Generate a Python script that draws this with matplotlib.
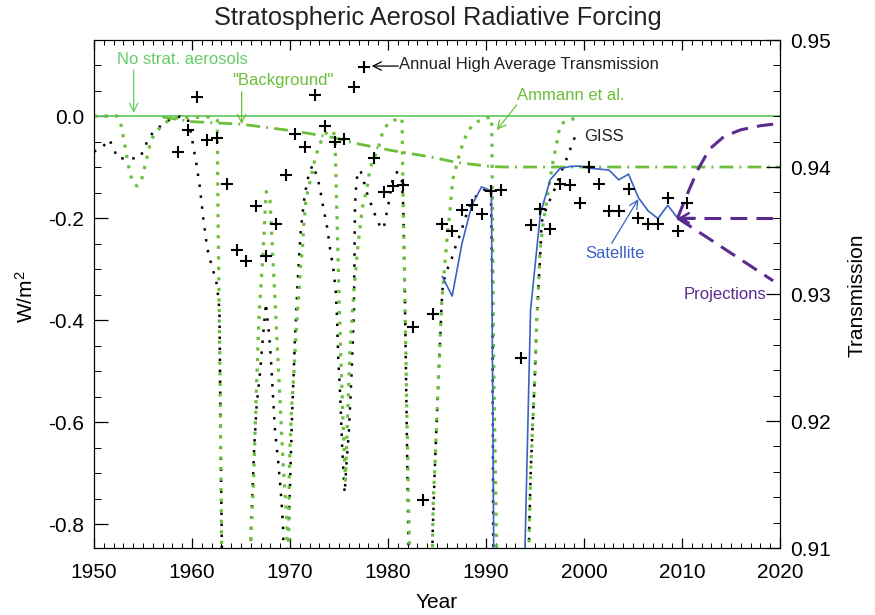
import numpy as np
import matplotlib.pyplot as plt
from matplotlib.ticker import MultipleLocator, FormatStrFormatter

plt.rcParams['font.family'] = ['Liberation Sans', 'DejaVu Sans']
plt.rcParams['mathtext.default'] = 'regular'
plt.rcParams['axes.unicode_minus'] = False

# GISS forcing (W/m2)
giss_year = [1950.0, 1950.95, 1951.56, 1952.07, 1952.42, 1953.19, 1954.01, 1954.72, 1955.13, 1955.58,
             1956.2, 1956.94, 1957.68, 1958.78, 1959.56, 1959.8, 1960.1, 1960.5, 1960.82, 1961.15,
             1961.56, 1962.1, 1962.45, 1962.65, 1962.8, 1963.03, 1963.12,
             1965.97, 1966.02, 1966.19, 1966.36, 1966.6, 1966.94, 1967.28, 1967.55, 1967.68, 1967.86,
             1968.06, 1968.23, 1968.47, 1968.81, 1969.05, 1969.26, 1969.39,
             1969.74, 1969.9, 1970.2, 1970.5, 1970.8, 1971.1, 1971.5, 1971.9, 1972.3, 1972.45,
             1972.83, 1973.06, 1973.4, 1973.81, 1974.08, 1974.42, 1974.66, 1974.77, 1974.93, 1975.1,
             1975.34, 1975.58,
             1975.79, 1976.02, 1976.3, 1976.53, 1976.63, 1976.79, 1977.04, 1977.24, 1977.48, 1977.89,
             1978.37, 1978.88, 1979.36, 1979.59, 1979.8, 1980.03, 1980.2, 1980.54, 1980.92, 1981.4,
             1981.56, 1981.73, 1982.07, 1982.14,
             1984.49, 1984.56, 1984.8, 1985.13, 1985.48, 1985.61, 1986.02, 1986.53, 1986.94, 1987.35,
             1987.76, 1988.16, 1988.67, 1989.18, 1989.8, 1990.31, 1990.51, 1990.66, 1990.74, 1990.82,
             1994.34, 1994.42, 1994.56, 1994.77, 1995.0, 1995.17, 1995.34, 1995.51, 1995.68, 1996.02,
             1996.36, 1996.87, 1997.55, 1997.96, 1998.4, 1998.74, 1999.08, 1999.39]
giss_f = [-0.07, -0.059, -0.046, -0.067, -0.083, -0.083, -0.083, -0.081, -0.063, -0.044,
          -0.027, -0.018, -0.008, -0.001, -0.005, -0.024, -0.055, -0.1, -0.142, -0.2,
          -0.26, -0.3, -0.32, -0.35, -0.38, -0.82, -0.95,
          -0.95, -0.806, -0.727, -0.645, -0.567, -0.504, -0.425, -0.367, -0.396, -0.425,
          -0.478, -0.537, -0.616, -0.68, -0.733, -0.792, -0.87,
          -0.87, -0.79, -0.596, -0.44, -0.32, -0.224, -0.155, -0.116, -0.096, -0.1025,
          -0.122, -0.142, -0.18, -0.22, -0.259, -0.299, -0.341, -0.38, -0.478, -0.537,
          -0.655, -0.739,
          -0.675, -0.616, -0.498, -0.38, -0.178, -0.125, -0.106, -0.11, -0.125, -0.153,
          -0.178, -0.204, -0.222, -0.217, -0.197, -0.176, -0.158, -0.116, -0.11, -0.12,
          -0.178, -0.361, -0.818, -0.89,
          -0.89, -0.818, -0.68, -0.524, -0.367, -0.327, -0.302, -0.278, -0.253, -0.233,
          -0.208, -0.184, -0.165, -0.153, -0.145, -0.141, -0.149, -0.361, -0.847, -0.95,
          -0.89, -0.806, -0.7, -0.602, -0.504, -0.406, -0.341, -0.282, -0.208, -0.188,
          -0.171, -0.15, -0.116, -0.096, -0.076, -0.057, -0.041, -0.027]

# Ammann et al. forcing (W/m2)
amm_year = [1950.0, 1952.35, 1952.76, 1953.06, 1953.27, 1953.5, 1953.78, 1954.05, 1954.39, 1954.8,
            1955.31, 1955.82, 1956.33, 1957.01, 1957.76, 1958.7, 1959.72, 1961.84, 1962.58, 1962.65,
            1962.86, 1963.01, 1963.11,
            1965.92, 1966.02, 1966.26, 1966.43, 1966.6, 1966.77, 1966.94,
            1967.17, 1967.35, 1967.52, 1967.58, 1967.76, 1967.96, 1968.13, 1968.3, 1968.64, 1968.98,
            1969.32, 1969.66, 1969.72,
            1969.85, 1969.93, 1970.0, 1970.17, 1970.34, 1970.51, 1970.68,
            1970.95, 1971.09, 1971.26, 1971.36, 1971.43, 1971.53, 1971.6, 1971.81, 1972.04, 1972.28,
            1972.48, 1972.79, 1973.13, 1973.5, 1973.98, 1974.39, 1974.59,
            1974.77, 1975.1, 1975.41, 1975.66, 1975.79, 1976.12, 1976.53, 1976.94, 1977.38, 1977.83,
            1978.16, 1978.5, 1979.01, 1979.52, 1980.2, 1981.22, 1981.43,
            1981.56, 1981.73, 1981.94, 1982.17, 1982.24,
            1984.52, 1984.56, 1984.62, 1984.8, 1984.97, 1985.13, 1985.31, 1985.48, 1985.64, 1985.98,
            1986.33, 1986.6, 1986.84, 1987.35, 1988.09, 1988.7, 1989.72, 1990.58,
            1990.66, 1990.77, 1990.92, 1991.09, 1991.12,
            1994.36, 1994.42, 1994.56, 1994.77, 1995.0, 1995.17, 1995.34, 1995.51, 1995.85, 1996.19,
            1996.53, 1996.87, 1997.21, 1997.55, 1998.23, 1999.26]
amm_f = [0.0, 0.0, -0.018, -0.047, -0.071, -0.096, -0.118, -0.133, -0.137, -0.129,
         -0.09, -0.047, -0.031, -0.018, -0.006, -0.003, -0.003, -0.002, -0.008, -0.178,
         -0.518, -0.818, -0.95,
         -0.95, -0.825, -0.727, -0.622, -0.524, -0.425, -0.361,
         -0.295, -0.229, -0.165, -0.148, -0.155, -0.165, -0.229, -0.295, -0.425, -0.557,
         -0.688, -0.786, -0.87,
         -0.87, -0.706, -0.649, -0.571, -0.524, -0.465, -0.406,
         -0.337, -0.289, -0.266, -0.227, -0.207, -0.188, -0.168, -0.148, -0.129, -0.109,
         -0.09, -0.07, -0.052, -0.037, -0.029, -0.029, -0.041,
         -0.178, -0.42, -0.596, -0.714, -0.639, -0.459, -0.341, -0.253, -0.18, -0.145,
         -0.103, -0.086, -0.063, -0.027, -0.011, -0.0045, -0.004,
         -0.178, -0.361, -0.596, -0.818, -0.89,
         -0.89, -0.818, -0.753, -0.681, -0.603, -0.524, -0.446, -0.367, -0.328, -0.25,
         -0.184, -0.125, -0.109, -0.07, -0.032, -0.016, -0.0045, -0.0025,
         -0.165, -0.459, -0.655, -0.847, -0.91,
         -0.91, -0.805, -0.7, -0.602, -0.504, -0.406, -0.341, -0.266, -0.207, -0.168,
         -0.125, -0.086, -0.054, -0.018, -0.008, -0.0045]

# "Background" level
bg_year = [1957, 1960, 1965, 1970.3, 1974.4, 1976.8, 1980.2, 1984.3, 1987.0, 1990.5, 1992, 2020]
bg_f = [-0.002, -0.011, -0.016, -0.029, -0.042, -0.054, -0.067, -0.08, -0.091, -0.099, -0.1, -0.1]

# satellite forcing, annual (mid-year)
sat_year = list(range(1985, 2010))
sat_f = [-0.315, -0.353, -0.25, -0.175, -0.139, -0.147, -3.1, -2.0, -1.2, -0.38,
         -0.192, -0.125, -0.103, -0.099, -0.098, -0.1025, -0.104, -0.106, -0.125, -0.114,
         -0.16, -0.186, -0.201, -0.175, -0.2]

# projections
proj_up_year = [2009.55, 2010.5, 2011.6, 2012.8, 2014.3, 2016.0, 2018.0, 2019.3]
proj_up_f = [-0.2, -0.155, -0.106, -0.065, -0.04, -0.027, -0.019, -0.016]
proj_flat_year = [2009.55, 2020]
proj_flat_f = [-0.2, -0.2]
proj_down_year = [2009.55, 2019.3]
proj_down_f = [-0.2, -0.323]

# annual high average transmission (right axis)
cross_years = list(range(1958, 1992)) + list(range(1993, 2011))
cross_trans = [0.9412, 0.9429, 0.9455, 0.9421, 0.9423, 0.9387, 0.9335, 0.9326, 0.9369, 0.9330,
               0.9355, 0.9394, 0.9426, 0.9416, 0.9457, 0.9432, 0.9420, 0.9422, 0.9463, 0.9479,
               0.9407, 0.9380, 0.9385, 0.9386, 0.9274, 0.9138, 0.9284, 0.9355, 0.9350, 0.9366,
               0.9370, 0.9363, 0.9381, 0.9382,
               0.9250, 0.9354, 0.9367, 0.9351, 0.9387, 0.9386, 0.9372, 0.9400, 0.9387, 0.9365,
               0.9365, 0.9383, 0.9360, 0.9355, 0.9355, 0.9376, 0.9350, 0.9372]

green = '#66cc66'
green_dot = '#6cbf3a'
blue = '#3a62c4'
purple = '#5b2a8e'

fig = plt.figure(figsize=(8.75, 6.15), dpi=100)
ax = fig.add_axes([0.1074, 0.1089, 0.784, 0.826])

ax.axhline(0.0, color=green, lw=1.3, zorder=2)
ax.plot(giss_year, giss_f, color='black', lw=1.8, dashes=(1, 3.4), zorder=3)
ax.plot(amm_year, amm_f, color=green_dot, lw=2.3, dashes=(1, 2.3), zorder=4)
ax.plot(bg_year, bg_f, color=green_dot, lw=2.0, dashes=(5, 2.2, 0.7, 2.2), zorder=4)
ax.plot(np.array(sat_year) + 0.55, sat_f, color=blue, lw=1.2, zorder=5)
ax.plot(proj_flat_year, proj_flat_f, color=purple, lw=2.2, dashes=(5.5, 3), zorder=5)
ax.plot(proj_up_year, proj_up_f, color=purple, lw=2.2, dashes=(5.5, 3), zorder=5)
ax.plot(proj_down_year, proj_down_f, color=purple, lw=2.2, dashes=(5.5, 3), zorder=5)

ax.set_xlim(1950, 2020)
ax.set_ylim(-0.847, 0.149)
ax.xaxis.set_major_locator(MultipleLocator(10))
ax.xaxis.set_minor_locator(MultipleLocator(1))
ax.yaxis.set_major_locator(MultipleLocator(0.2))
ax.yaxis.set_minor_locator(MultipleLocator(0.05))
ax.yaxis.set_major_formatter(FormatStrFormatter('%.1f'))
ax.tick_params(axis='x', which='both', direction='in', top=True, labelsize=15, pad=11)
ax.tick_params(axis='x', which='major', length=7, width=0.9)
ax.tick_params(axis='x', which='minor', length=3.5, width=0.7)
ax.tick_params(axis='y', which='both', direction='in', right=False, labelsize=15, pad=7)
ax.tick_params(axis='y', which='major', length=10, width=0.9)
ax.tick_params(axis='y', which='minor', length=5, width=0.7)

ax2 = ax.twinx()
ax2.set_ylim(0.91, 0.95)
ax2.plot(np.array(cross_years) + 0.55, cross_trans, linestyle='none', marker='+',
         color='black', markersize=8, mew=1.5, zorder=6)
ax2.yaxis.set_major_locator(MultipleLocator(0.01))
ax2.yaxis.set_minor_locator(MultipleLocator(0.002))
ax2.yaxis.set_major_formatter(FormatStrFormatter('%.2f'))
ax2.tick_params(axis='y', which='both', direction='in', labelsize=15, pad=7)
ax2.tick_params(axis='y', which='major', length=10, width=0.9)
ax2.tick_params(axis='y', which='minor', length=5, width=0.7)

arrow = dict(arrowstyle='->,head_length=0.6,head_width=0.3', lw=0.9, shrinkA=0, shrinkB=0)

ax.text(1958.98, 0.111, 'No strat. aerosols', color=green, fontsize=12, ha='center', va='center')
ax.annotate('', xy=(1954.05, 0.006), xytext=(1954.05, 0.090), arrowprops=dict(arrow, color=green))
ax.text(1969.3, 0.0706, '"Background"', color=green_dot, fontsize=12, ha='center', va='center')
ax.annotate('', xy=(1965.07, -0.0157), xytext=(1965.07, 0.0476), arrowprops=dict(arrow, color=green_dot))
ax.text(1981.1, 0.101, 'Annual High Average Transmission', color='#222222', fontsize=12,
        ha='left', va='center')
ax.annotate('', xy=(1978.34, 0.098), xytext=(1981.05, 0.098), arrowprops=dict(arrow, color='black'))
ax.text(1993.13, 0.041, 'Ammann et al.', color=green_dot, fontsize=12, ha='left', va='center')
ax.annotate('', xy=(1991.09, -0.0275), xytext=(1993.13, 0.0216), arrowprops=dict(arrow, color=green_dot))
ax.text(2000.0, -0.0406, 'GISS', color='#222222', fontsize=12, ha='left', va='center')
ax.text(2000.1, -0.269, 'Satellite', color=blue, fontsize=12, ha='left', va='center')
ax.annotate('', xy=(2005.54, -0.163), xytext=(2002.83, -0.2496), arrowprops=dict(arrow, color=blue))
ax.text(2010.13, -0.349, 'Projections', color=purple, fontsize=12, ha='left', va='center')
ax.annotate('', xy=(2009.6, -0.2), xytext=(2011.3, -0.2),
            arrowprops=dict(arrowstyle='->,head_length=0.6,head_width=0.35', lw=1.8,
                            color=purple, shrinkA=0, shrinkB=0))

fig.text(438 / 875, 1 - 18 / 615, 'Stratospheric Aerosol Radiative Forcing', fontsize=18.3,
         ha='center', va='center', color='#222222')
fig.text(437 / 875, 1 - 603 / 615, 'Year', fontsize=15, ha='center', va='center')
fig.text(26 / 875, 1 - 297 / 615, 'W/m$^2$', fontsize=15, ha='center', va='center', rotation=90)
fig.text(857 / 875, 1 - 295 / 615, 'Transmission', fontsize=15, ha='center', va='center', rotation=90)

plt.savefig('out.png', dpi=100)
